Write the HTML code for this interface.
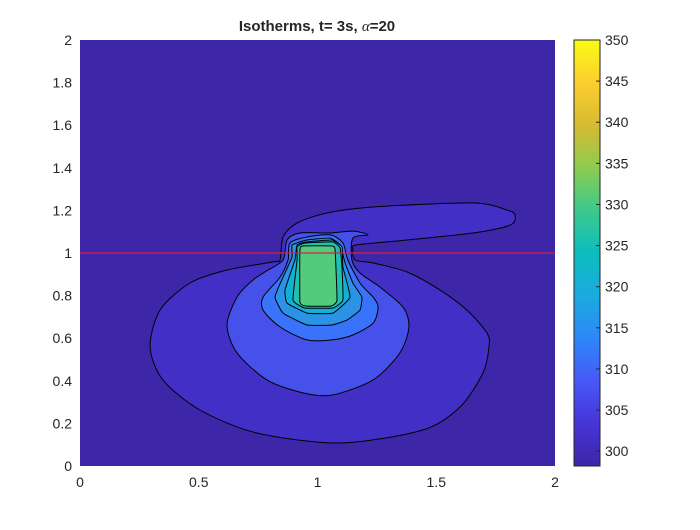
<!DOCTYPE html>
<html><head><meta charset="utf-8"><style>
body{margin:0;background:#fff;}
svg text{font-family:"Liberation Sans",sans-serif;fill:#262626;}
</style></head><body>
<svg id="chart" width="700" height="525" viewBox="0 0 700 525" xmlns="http://www.w3.org/2000/svg">
<rect width="700" height="525" fill="#fff"/>
<text x="317" y="31" font-size="15" font-weight="bold" text-anchor="middle">Isotherms, t= 3s, <tspan font-style="italic" font-family="Liberation Serif" font-weight="normal">α</tspan>=20</text>
<g id="plot"></g>
<g id="axes"></g>
<g id="cbar"></g>
</svg>
<script>
const xTicks=[0,0.5,1,1.5,2];
const xTickLabels=["0","0.5","1","1.5","2"];
const yTicks=[0,0.2,0.4,0.6,0.8,1,1.2,1.4,1.6,1.8,2];
const yTickLabels=["0","0.2","0.4","0.6","0.8","1","1.2","1.4","1.6","1.8","2"];
const cTicks=[300,305,310,315,320,325,330,335,340,345,350];
const cMin=298.2, cMax=350;
const levels=[300,305,310,315,320,325,330];
const redLineY=1;
const contour300=[[.842,.967],[.855,1.075],[.914,1.141],[1.04,1.188],[1.234,1.216],[1.655,1.235],[1.798,1.202],[1.832,1.178],[1.811,1.131],[1.655,1.094],[1.377,1.061],[1.166,1.038],[1.149,1.014],[1.158,.967],[1.234,.953],[1.377,.911],[1.516,.826],[1.629,.732],[1.714,.624],[1.722,.559],[1.697,.437],[1.6,.277],[1.444,.169],[1.095,.108],[.745,.155],[.505,.263],[.349,.404],[.295,.559],[.337,.732],[.463,.859],[.619,.920],[.813,.958]];
const contour305=[[.792,.920],[.855,.967],[.872,1.061],[.926,1.094],[1.053,1.094],[1.149,1.103],[1.213,1.085],[1.149,1.070],[1.145,.967],[1.179,.906],[1.263,.840],[1.36,.746],[1.385,.653],[1.347,.531],[1.234,.404],[1.061,.333],[.939,.343],[.787,.404],[.661,.531],[.619,.662],[.661,.793],[.728,.873]];
const contour310=[[.876,.967],[.884,1.047],[.956,1.075],[1.053,1.085],[1.107,1.047],[1.128,.967],[1.179,.859],[1.234,.793],[1.255,.746],[1.234,.671],[1.149,.615],[1.061,.592],[.956,.592],[.842,.653],[.771,.732],[.771,.793],[.842,.887]];
const contour315=[[.893,.981],[.893,1.038],[.956,1.061],[1.053,1.070],[1.095,1.038],[1.116,.953],[1.149,.859],[1.187,.793],[1.179,.732],[1.124,.685],[1.061,.662],[.956,.662],[.855,.718],[.821,.793],[.855,.887]];
const contour320=[[.905,.967],[.914,1.038],[.956,1.052],[1.061,1.061],[1.103,1.028],[1.107,.934],[1.137,.793],[1.065,.718],[.956,.718],[.872,.765],[.863,.826]];
const contour325=[[.914,.967],[.914,1.028],[.947,1.047],[1.065,1.052],[1.095,1.023],[1.103,.934],[1.107,.779],[1.065,.742],[.947,.742],[.897,.779]];
const contour330=[[.926,.770],[.926,1.014],[.939,1.033],[1.061,1.033],[1.074,1.014],[1.082,.779],[1.057,.751],[.952,.751]];
const contours=[contour300,contour305,contour310,contour315,contour320,contour325,contour330];

const L=80,R=555,T=40,B=466;
const sx=v=>L+(v-0)/(2-0)*(R-L);
const sy=v=>B-(v-0)/(2-0)*(B-T);
const CB={x:574,w:26};
const cy=v=>B-(v-cMin)/(cMax-cMin)*(B-T);
const stops=[[0,[62,38,168]],[0.1,[70,52,215]],[0.2,[71,88,247]],[0.3,[45,135,247]],[0.4,[27,170,223]],[0.5,[11,189,190]],[0.6,[60,201,140]],[0.7,[140,203,80]],[0.8,[215,186,50]],[0.9,[252,206,46]],[1,[249,251,20]]];
function parula(t){t=Math.max(0,Math.min(1,t));for(let i=1;i<stops.length;i++){if(t<=stops[i][0]){const a=stops[i-1],b=stops[i];const f=(t-a[0])/(b[0]-a[0]);return 'rgb('+a[1].map((c,k)=>Math.round(c+(b[1][k]-c)*f)).join(',')+')';}}}
const bandColors=["#3e26a8","#4230c6","#4651e9","#3a73fb","#2a93e5","#13b0d5","#21bfaf","#52cb7c"];
const NS="http://www.w3.org/2000/svg";
function mk(tag,attrs,parent){const e=document.createElementNS(NS,tag);for(const k in attrs)e.setAttribute(k,attrs[k]);parent.appendChild(e);return e;}
function smoothPath(pts,k){
  const n=pts.length;let d='M'+pts[0][0].toFixed(1)+','+pts[0][1].toFixed(1);
  for(let i=0;i<n;i++){
    const p0=pts[(i-1+n)%n],p1=pts[i],p2=pts[(i+1)%n],p3=pts[(i+2)%n];
    const c1=[p1[0]+(p2[0]-p0[0])*k,p1[1]+(p2[1]-p0[1])*k];
    const c2=[p2[0]-(p3[0]-p1[0])*k,p2[1]-(p3[1]-p1[1])*k];
    d+=' C'+c1.map(v=>v.toFixed(1)).join(',')+' '+c2.map(v=>v.toFixed(1)).join(',')+' '+p2.map(v=>v.toFixed(1)).join(',');
  }
  return d+'Z';
}
const plot=document.getElementById('plot');
let bg=mk('rect',{x:sx(0),y:sy(2),width:sx(2)-sx(0),height:sy(0)-sy(2),fill:bandColors[0]},plot);


contours.forEach((c,i)=>{
  const pts=c.map(q=>[sx(q[0]),sy(q[1])]);
  const p=mk('path',{d:smoothPath(pts,i<3?0.14:0.06),fill:bandColors[i+1],stroke:'#000','stroke-width':1,'stroke-linejoin':'round'},plot);
  
  
});
const rl=mk('line',{x1:sx(0),x2:sx(2),y1:sy(redLineY),y2:sy(redLineY),stroke:'#d6214a','stroke-width':1.5,opacity:0.85},plot);


const ax=document.getElementById('axes');
xTicks.forEach((v,i)=>{
  const t=mk('text',{x:sx(v),y:B+21,'font-size':14,'text-anchor':'middle'},ax);t.textContent=xTickLabels[i];
  
  
});
yTicks.forEach((v,i)=>{
  const t=mk('text',{x:L-8,y:sy(v)+5,'font-size':14,'text-anchor':'end'},ax);t.textContent=yTickLabels[i];
  
  
});
const cb=document.getElementById('cbar');
const defs=mk('defs',{},cb);
const g=mk('linearGradient',{id:'pg',x1:0,y1:1,x2:0,y2:0},defs);
for(let i=0;i<=20;i++){mk('stop',{offset:i/20,'stop-color':parula(i/20)},g);}
const cr=mk('rect',{x:CB.x,y:T,width:CB.w,height:B-T,fill:'url(#pg)',stroke:'#262626','stroke-width':1},cb);


cTicks.forEach(v=>{
  const y=cy(v);
  mk('line',{x1:CB.x+CB.w-4,x2:CB.x+CB.w,y1:y,y2:y,stroke:'#262626'},cb);
  const t=mk('text',{x:CB.x+CB.w+5,y:y+5,'font-size':14},cb);t.textContent=v;
  
  
});
</script>
</body></html>
